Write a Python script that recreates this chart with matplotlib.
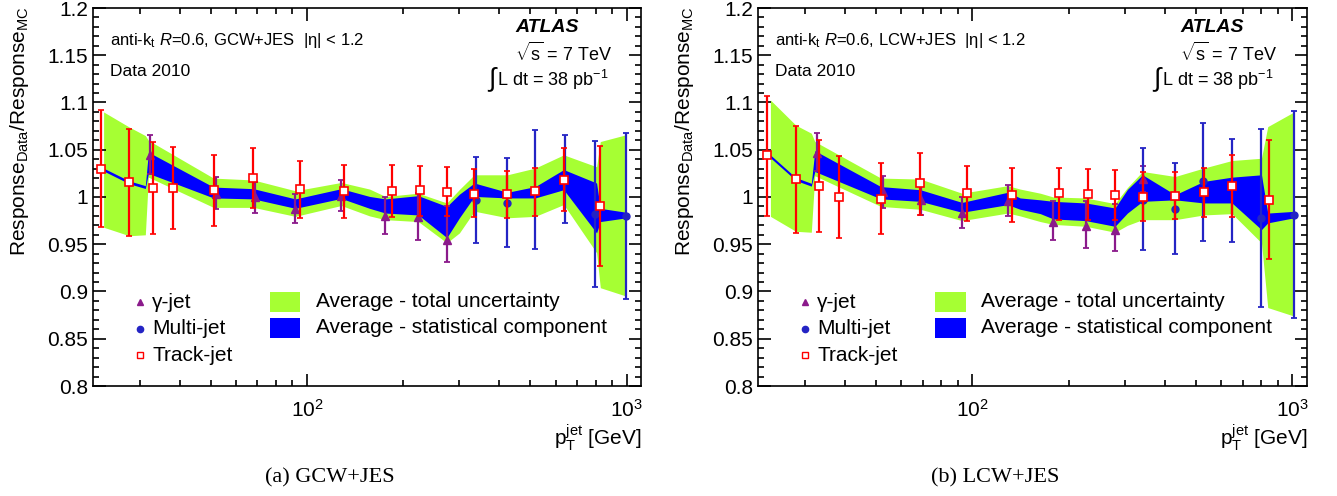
import numpy as np
import matplotlib
matplotlib.use("Agg")
import matplotlib.pyplot as plt
from matplotlib.ticker import FuncFormatter, MultipleLocator, LogLocator
from matplotlib.patches import Rectangle

plt.rcParams['font.family'] = ['Liberation Sans', 'DejaVu Sans']
plt.rcParams['mathtext.fontset'] = 'custom'
plt.rcParams['mathtext.rm'] = 'Liberation Sans'
plt.rcParams['mathtext.it'] = 'Liberation Sans:italic'
plt.rcParams['mathtext.bf'] = 'Liberation Sans:bold'

# ---- GCW+JES (left panel) ----
gcw_gam_pt = [32.2, 51.8, 68.8, 91.7, 128, 176, 223, 274]
gcw_gam_val = [1.0446, 1.003, 1.000, 0.987, 1.0006, 0.980, 0.979, 0.954]
gcw_gam_lo = [1.0246, 0.987, 0.983, 0.972, 0.9855, 0.961, 0.954, 0.9315]
gcw_gam_hi = [1.066, 1.021, 1.0154, 1.0035, 1.0175, 1.000, 1.004, 0.990]

gcw_multi_pt = [337, 424, 518, 644, 795, 993]
gcw_multi_val = [0.997, 0.9937, 1.007, 1.020, 0.982, 0.980]
gcw_multi_lo = [0.9515, 0.947, 0.9455, 0.9726, 0.905, 0.892]
gcw_multi_hi = [1.042, 1.0415, 1.071, 1.066, 1.059, 1.0675]

gcw_track_pt = [22.7, 27.8, 32.9, 38, 51, 68, 95, 131, 184, 225, 274, 334, 424, 518, 636, 828]
gcw_track_val = [1.030, 1.0154, 1.009, 1.0095, 1.007, 1.020, 1.008, 1.006,
                 1.0066, 1.007, 1.005, 1.0035, 1.003, 1.006, 1.018, 0.991]
gcw_track_lo = [0.968, 0.959, 0.961, 0.966, 0.969, 0.988, 0.978, 0.978,
                0.979, 0.9795, 0.9795, 0.9785, 0.978, 0.9795, 0.9855, 0.927]
gcw_track_hi = [1.092, 1.072, 1.058, 1.053, 1.044, 1.052, 1.0376, 1.034,
                1.034, 1.033, 1.032, 1.0295, 1.028, 1.031, 1.052, 1.054]

gcw_band_pt = [23.1, 27.8, 31.2, 31.9, 51, 68, 92, 128, 157, 176, 223, 274, 300, 334,
               424, 518, 636, 806, 828, 1000]
gcw_tot_lo = [0.968, 0.959, 0.960, 1.021, 0.989, 0.989, 0.9795, 0.991, 0.980, 0.976,
              0.974, 0.9515, 0.962, 0.985, 0.978, 0.9795, 0.992, 0.941, 0.904, 0.895]
gcw_tot_hi = [1.090, 1.074, 1.065, 1.060, 1.020, 1.018, 1.0066, 1.0154, 1.0084, 1.0006,
              1.004, 0.9937, 1.008, 1.0235, 1.0235, 1.0306, 1.0446, 1.032, 1.0587, 1.066]
gcw_stat_lo = [1.0275, 1.014, 1.009, 1.025, 0.999, 0.998, 0.988, 0.9985, 0.988, 0.983,
               0.981, 0.957, 0.978, 1.0006, 0.999, 0.999, 1.0077, 0.962, 0.974, 0.978]
gcw_stat_hi = [1.0305, 1.017, 1.012, 1.0475, 1.0105, 1.0088, 0.998, 1.0088, 1.0006, 0.998,
               1.0014, 0.990, 1.003, 1.0148, 1.005, 1.011, 1.029, 1.0148, 0.988, 0.9838]

# ---- LCW+JES (right panel) ----
lcw_gam_pt = [32.6, 52.4, 69.2, 92.8, 129, 179, 226, 279, 342]
lcw_gam_val = [1.047, 1.005, 0.997, 0.983, 0.996, 0.974, 0.9697, 0.9648, 1.019]
lcw_gam_lo = [1.027, 0.988, 0.981, 0.967, 0.9795, 0.955, 0.946, 0.9426, 1.005]
lcw_gam_hi = [1.0675, 1.0225, 1.013, 0.9996, 1.013, 0.996, 0.9954, 0.993, 1.033]

lcw_multi_pt = [342, 430, 527, 647, 800, 1011]
lcw_multi_val = [0.997, 0.9877, 1.0165, 1.012, 0.978, 0.981]
lcw_multi_lo = [0.944, 0.940, 0.953, 0.9525, 0.884, 0.872]
lcw_multi_hi = [1.0517, 1.036, 1.078, 1.061, 1.072, 1.091]

lcw_track_pt = [22.9, 28.1, 33.1, 38.4, 51.8, 68.8, 96.2, 133, 186, 229, 279, 340, 430, 528, 647, 845]
lcw_track_val = [1.044, 1.019, 1.0116, 1.0003, 0.998, 1.0143, 1.0042, 1.0024,
                 1.0038, 1.003, 1.002, 1.0003, 1.0014, 1.005, 1.0116, 0.997]
lcw_track_lo = [0.980, 0.9616, 0.9627, 0.9567, 0.9606, 0.981, 0.975, 0.974,
                0.976, 0.976, 0.976, 0.975, 0.9768, 0.9785, 0.9785, 0.934]
lcw_track_hi = [1.107, 1.0755, 1.0604, 1.0436, 1.0355, 1.047, 1.0333, 1.0306,
                1.0312, 1.030, 1.0285, 1.026, 1.026, 1.0306, 1.044, 1.0604]

lcw_band_pt = [23.4, 28.1, 31.4, 32.2, 51.8, 68.8, 92.8, 129, 141, 163, 179, 226, 279, 305, 340,
               430, 528, 647, 800, 837, 1011]
lcw_tot_lo = [0.9795, 0.9637, 0.9627, 1.0225, 0.990, 0.987, 0.975, 0.983, 0.980, 0.974,
              0.971, 0.969, 0.9627, 0.970, 0.976, 0.976, 0.981, 0.9824, 0.9515, 0.883, 0.874]
lcw_tot_hi = [1.1026, 1.076, 1.0675, 1.0587, 1.020, 1.019, 1.004, 1.012, 1.0084, 1.004,
              1.000, 0.999, 0.993, 1.010, 1.027, 1.0217, 1.0306, 1.0386, 1.041, 1.0745, 1.090]
lcw_stat_lo = [1.0415, 1.0175, 1.0115, 1.027, 0.998, 0.9954, 0.9838, 0.9919, 0.987, 0.9824,
               0.9768, 0.975, 0.969, 0.983, 0.9954, 0.997, 0.9937, 0.9937, 0.9655, 0.9726, 0.978]
lcw_stat_hi = [1.0445, 1.0205, 1.0145, 1.049, 1.011, 1.0077, 0.9943, 1.005, 0.999, 0.997,
               0.9954, 0.9937, 0.9884, 1.008, 1.0235, 1.0024, 1.0165, 1.021, 1.0235, 0.983, 0.9848]

W, H = 1337, 496
green = '#a6ff33'
blue_band = '#0000ff'
c_gam = '#8b1a8b'
c_multi = '#2424c4'
c_track = '#ff0000'


def err(val, lo, hi):
    val, lo, hi = np.array(val), np.array(lo), np.array(hi)
    return [val - lo, hi - val]


def draw_panel(ax, d):
    ax.fill_between(d['band_pt'], d['tot_lo'], d['tot_hi'], color=green, lw=0, zorder=1)
    ax.fill_between(d['band_pt'], d['stat_lo'], d['stat_hi'], color=blue_band, lw=0, zorder=2)
    ax.errorbar(d['track_pt'], d['track_val'], yerr=err(d['track_val'], d['track_lo'], d['track_hi']),
                fmt='s', ms=6, mfc='white', mec=c_track, mew=1.2, ecolor=c_track, elinewidth=1.6,
                capsize=2, capthick=1.3, zorder=5)
    ax.errorbar(d['gam_pt'], d['gam_val'], yerr=err(d['gam_val'], d['gam_lo'], d['gam_hi']),
                fmt='^', ms=6, color=c_gam, ecolor=c_gam, elinewidth=1.6,
                capsize=2, capthick=1.3, zorder=4)
    ax.errorbar(d['multi_pt'], d['multi_val'], yerr=err(d['multi_val'], d['multi_lo'], d['multi_hi']),
                fmt='o', ms=5, color=c_multi, ecolor=c_multi, elinewidth=1.6,
                capsize=2, capthick=1.3, zorder=4)

    ax.set_xscale('log')
    ax.set_xlim(21.4, 1110)
    ax.set_ylim(0.8, 1.2)
    ax.yaxis.set_major_locator(MultipleLocator(0.05))
    ax.yaxis.set_minor_locator(MultipleLocator(0.01))
    ax.yaxis.set_major_formatter(FuncFormatter(lambda v, p: '%g' % round(v, 3)))
    ax.xaxis.set_major_locator(LogLocator(base=10, numticks=10))
    ax.xaxis.set_minor_locator(LogLocator(base=10, subs=np.arange(2, 10), numticks=10))
    ax.xaxis.set_minor_formatter(plt.NullFormatter())
    ax.tick_params(which='both', direction='in', top=True, right=True, labelsize=15, width=1.2)
    ax.tick_params(which='major', length=9)
    ax.tick_params(which='minor', length=4.5)
    ax.tick_params(axis='x', pad=9)
    for s in ax.spines.values():
        s.set_linewidth(1.2)

    # legend
    tr = ax.transAxes
    rows = [0.222, 0.152, 0.081]
    ax.plot([0.086], [rows[0]], '^', ms=5, color=c_gam, transform=tr, clip_on=False)
    ax.plot([0.086], [rows[1]], 'o', ms=4.5, color=c_multi, transform=tr, clip_on=False)
    ax.plot([0.086], [rows[2]], 's', ms=5, mfc='white', mec=c_track, mew=1, transform=tr, clip_on=False)
    for r, lab in zip(rows, ['γ-jet', 'Multi-jet', 'Track-jet']):
        ax.text(0.108, r, lab, transform=tr, fontsize=15, va='center')
    ax.add_patch(Rectangle((0.323, 0.196), 0.055, 0.053, color=green, transform=tr, lw=0))
    ax.add_patch(Rectangle((0.323, 0.127), 0.055, 0.053, color=blue_band, transform=tr, lw=0))
    ax.text(0.407, 0.224, 'Average - total uncertainty', transform=tr, fontsize=15, va='center')
    ax.text(0.407, 0.154, 'Average - statistical component', transform=tr, fontsize=15, va='center')


gcw = dict(band_pt=gcw_band_pt, tot_lo=gcw_tot_lo, tot_hi=gcw_tot_hi, stat_lo=gcw_stat_lo,
           stat_hi=gcw_stat_hi, track_pt=gcw_track_pt, track_val=gcw_track_val,
           track_lo=gcw_track_lo, track_hi=gcw_track_hi, gam_pt=gcw_gam_pt,
           gam_val=gcw_gam_val, gam_lo=gcw_gam_lo, gam_hi=gcw_gam_hi,
           multi_pt=gcw_multi_pt, multi_val=gcw_multi_val, multi_lo=gcw_multi_lo,
           multi_hi=gcw_multi_hi)
lcw = dict(band_pt=lcw_band_pt, tot_lo=lcw_tot_lo, tot_hi=lcw_tot_hi, stat_lo=lcw_stat_lo,
           stat_hi=lcw_stat_hi, track_pt=lcw_track_pt, track_val=lcw_track_val,
           track_lo=lcw_track_lo, track_hi=lcw_track_hi, gam_pt=lcw_gam_pt,
           gam_val=lcw_gam_val, gam_lo=lcw_gam_lo, gam_hi=lcw_gam_hi,
           multi_pt=lcw_multi_pt, multi_val=lcw_multi_val, multi_lo=lcw_multi_lo,
           multi_hi=lcw_multi_hi)

fig = plt.figure(figsize=(W / 100, H / 100), dpi=100)
panels = [(93, 548, gcw, 'GCW+JES', '(a) GCW+JES'),
          (758, 549, lcw, 'LCW+JES', '(b) LCW+JES')]

for x0, w, d, calib, caption in panels:
    ax = fig.add_axes([x0 / W, 1 - 386 / H, w / W, 378 / H])
    draw_panel(ax, d)
    fx = lambda px: (x0 + px) / W
    fy = lambda py: 1 - py / H
    fig.text(fx(-73), fy(6), r'Response$_{\mathrm{Data}}$/Response$_{\mathrm{MC}}$',
             rotation=90, fontsize=15, ha='center', va='top')
    fig.text(fx(w), fy(438), r'p$_{\mathrm{T}}^{\mathrm{jet}}$ [GeV]', fontsize=15, ha='right', va='center')
    fig.text(fx(17), fy(40), r'anti-k$_{\mathrm{t}}$ $R$=0.6, ' + calib + r'  |$\mathrm{\eta}$| < 1.2',
             fontsize=12, va='center')
    fig.text(fx(17), fy(72), 'Data 2010', fontsize=12.5, va='center')
    fig.text(fx(422), fy(28), 'ATLAS', fontsize=14, fontweight='bold', fontstyle='italic', va='center')
    fig.text(fx(422), fy(53), r'$\sqrt{\mathrm{s}}$ = 7 TeV', fontsize=13, va='center')
    fig.text(fx(394), fy(80), r'$\int$', fontsize=19, va='center')
    fig.text(fx(404), fy(80), r'L dt = 38 pb$^{\mathrm{-1}}$', fontsize=13, va='center')
    fig.text(fx(237), fy(478), caption, fontsize=16, family='Liberation Serif',
             ha='center', va='center')

fig.savefig('out.png', dpi=100)
